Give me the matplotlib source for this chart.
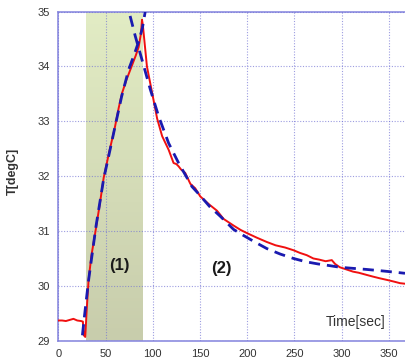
import numpy as np
import matplotlib
matplotlib.use('Agg')
import matplotlib.pyplot as plt

plt.rcParams['font.family'] = ['Liberation Sans', 'DejaVu Sans']

# measured temperature (red)
t_meas = [0, 4, 8, 12, 16, 20, 24, 26, 27, 28.5, 30, 32, 35, 39, 44, 48, 54, 60, 64,
          67.4, 72, 78, 82, 85, 87.5, 88.6, 89.5, 93.8, 99.3, 104.6, 109.9, 116.8, 122,
          125, 127.3, 130, 134.3, 139.8, 144.9, 150.3, 160, 168, 175, 185.5, 193, 200,
          210, 220.8, 230, 240, 249, 256, 263, 270, 276, 283, 289.5, 293, 298, 305, 312,
          318, 326.5, 333, 340, 347.7, 355, 361.7, 367]
T_meas = [29.37, 29.37, 29.36, 29.38, 29.40, 29.37, 29.36, 29.35, 29.10, 29.07, 29.55,
          30.10, 30.55, 30.96, 31.50, 31.97, 32.45, 32.90, 33.25, 33.51, 33.75, 34.02,
          34.20, 34.35, 34.60, 34.85, 34.75, 34.00, 33.52, 33.05, 32.73, 32.48, 32.24,
          32.22, 32.18, 32.12, 32.06, 31.86, 31.78, 31.63, 31.48, 31.37, 31.22, 31.10,
          31.02, 30.96, 30.88, 30.80, 30.74, 30.70, 30.65, 30.60, 30.56, 30.50, 30.48,
          30.45, 30.47, 30.40, 30.34, 30.30, 30.26, 30.24, 30.20, 30.17, 30.14, 30.11,
          30.08, 30.05, 30.04]

# fitted heating curve (blue dashed)
t_heat = [25.5, 28, 32, 36, 40, 48, 55, 60, 67, 74.4, 80, 85, 89, 92]
T_heat = [29.10, 29.50, 30.10, 30.60, 31.10, 31.95, 32.50, 32.90, 33.45, 33.94, 34.20,
          34.45, 34.70, 35.00]

# fitted cooling curve (blue dashed)
t_cool = [76, 81.5, 88.6, 97.4, 106.2, 116.8, 127.3, 141.5, 150, 160, 171.4, 185.5, 196,
          208, 220.8, 235, 249, 262, 275, 287, 298, 312, 326.5, 345, 361.7, 367]
T_cool = [34.92, 34.55, 34.12, 33.58, 33.09, 32.60, 32.24, 31.81, 31.65, 31.45, 31.27,
          31.03, 30.92, 30.80, 30.68, 30.58, 30.50, 30.44, 30.40, 30.37, 30.34, 30.32,
          30.30, 30.27, 30.24, 30.23]

heat_span = (29.3, 89.6)
x_ticks = [0, 50, 100, 150, 200, 250, 300, 350]
y_ticks = [29, 30, 31, 32, 33, 34, 35]

fig = plt.figure(figsize=(4.05, 3.61), dpi=100)
ax = fig.add_axes([0.144, 0.056, 0.856, 0.912])
ax.set_xlim(0, 367)
ax.set_ylim(29, 35)

# gradient shade for heating phase
top = np.array([226, 236, 196]) / 255
bot = np.array([200, 205, 172]) / 255
frac = np.linspace(0, 1, 100)[:, None]
grad = (top * (1 - frac) + bot * frac)[:, None, :]
ax.imshow(grad, extent=[heat_span[0], heat_span[1], 29, 35], aspect='auto',
          origin='upper', zorder=0)

grid_c = '#7474d4'
ax.set_xticks(x_ticks)
ax.set_yticks(y_ticks)
ax.grid(True, color=grid_c, linestyle=(0, (1, 1.5)), linewidth=0.8, alpha=0.7)
ax.set_axisbelow(False)
ax.tick_params(length=0, labelsize=8, labelcolor='#333333', pad=6)

for side in ['left', 'top', 'bottom']:
    ax.spines[side].set_color('#8c8ce0')
    ax.spines[side].set_linewidth(1.2)
ax.spines['right'].set_visible(False)

ax.plot(t_meas, T_meas, color='#f01010', linewidth=1.4, zorder=3)
ax.plot(t_heat, T_heat, color='#1a1ab0', linewidth=2, linestyle=(0, (4, 2.5)), zorder=4)
ax.plot(t_cool, T_cool, color='#1a1ab0', linewidth=2, linestyle=(0, (4, 2.5)), zorder=4)

ax.text(64.6, 30.37, '(1)', fontsize=12, fontweight='bold', ha='center', va='center',
        color='#1a1a1a')
ax.text(172.5, 30.32, '(2)', fontsize=12, fontweight='bold', ha='center', va='center',
        color='#1a1a1a')
ax.text(315, 29.35, 'Time[sec]', fontsize=10, ha='center', va='center', color='#333333')

fig.text(13.3 / 405, 1 - 171 / 361, 'T[degC]', rotation=90, fontsize=9,
         fontweight='bold', ha='center', va='center', color='#333333')

fig.savefig('out.png', dpi=100)
